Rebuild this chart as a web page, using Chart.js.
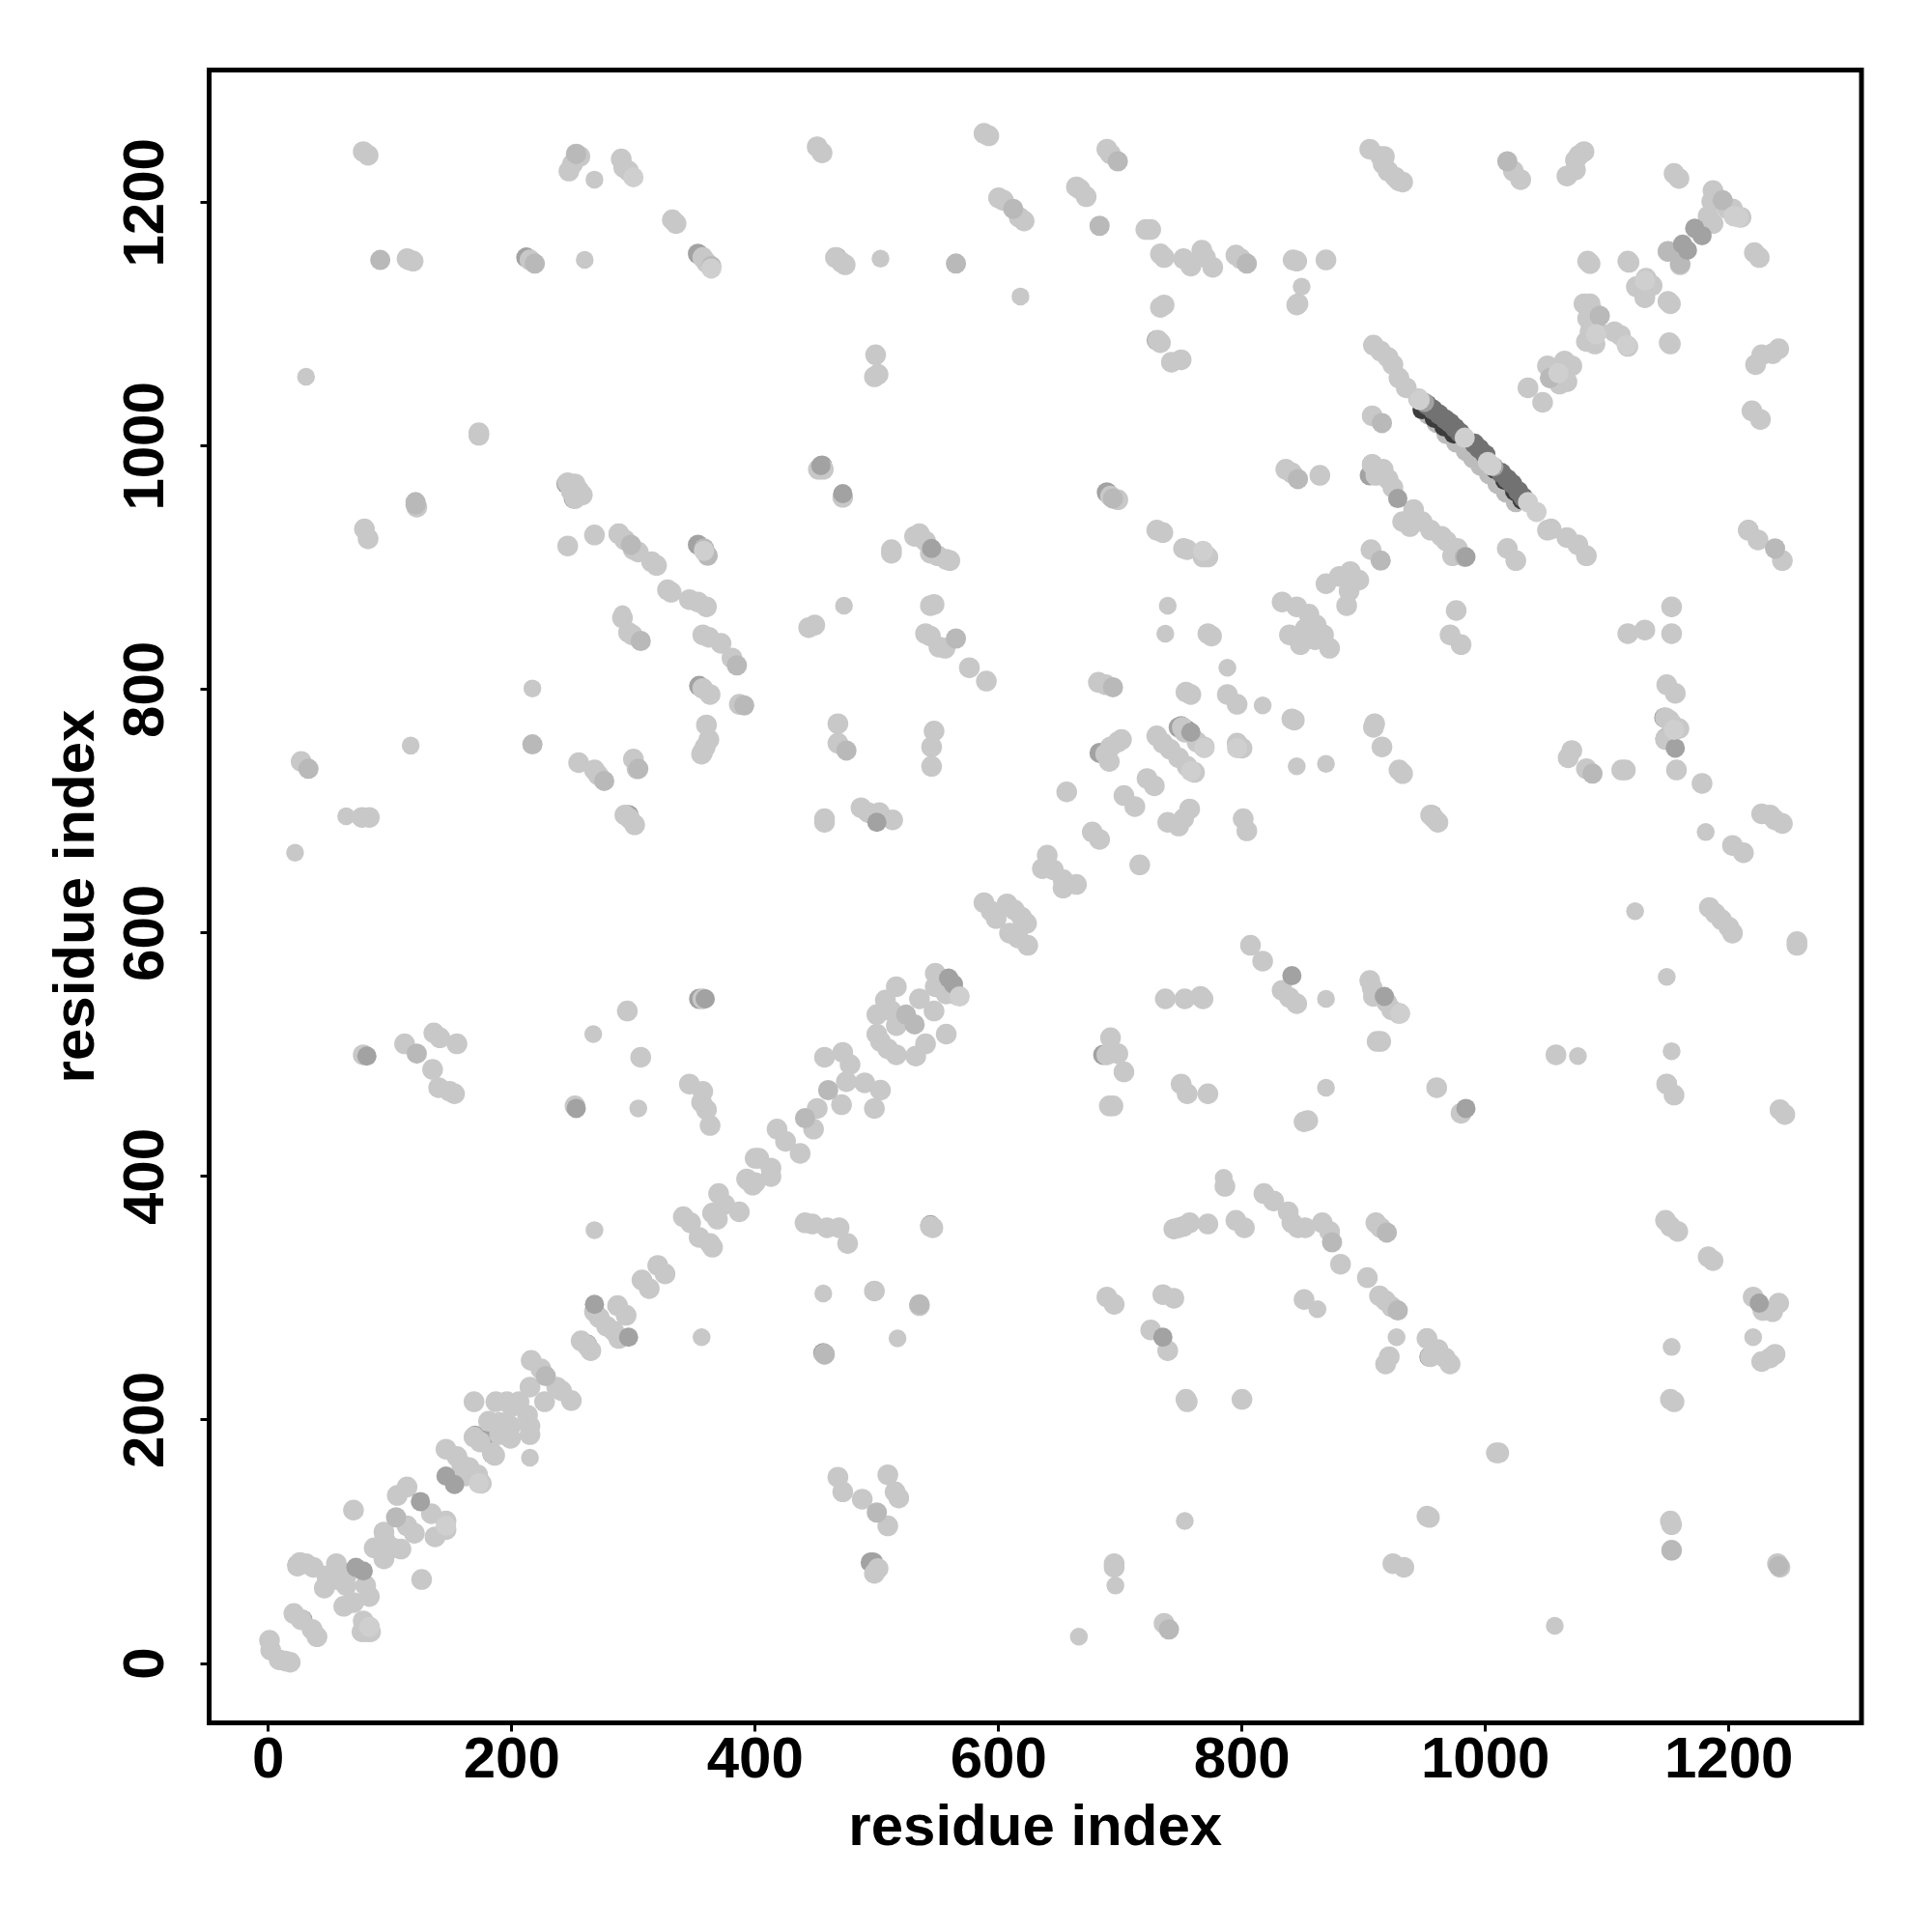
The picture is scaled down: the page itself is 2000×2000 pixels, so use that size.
<!DOCTYPE html>
<html>
<head>
<meta charset="utf-8">
<title>residue index</title>
<script src="https://cdn.jsdelivr.net/npm/chart.js@4/dist/chart.umd.min.js"></script>
<style>
  html, body { margin: 0; padding: 0; background: #fff; }
  canvas { display: block; }
</style>
</head>
<body>
<canvas id="contacts" width="2000" height="2000"></canvas>
<script>
const tickValues = [0, 200, 400, 600, 800, 1000, 1200];

// contact pairs [residue, residue], one list per grey level
const underDots = [[953,1026],[960,1019],[968,1010],[976,1003],[984,996],[990,990],[996,984],[1003,977],[1010,969],[1017,962],[1025,954]];

const blackDots = [[948,1030],[958,1023],[966,1016],[974,1010],[1008,981],[1016,972],[1024,963],[1030,956],[184,172],[174,183]];

const shadowDots = [[353,1158],[212,1155],[353,919],[689,962],[354,546],
  [730,1087],[748,769],[750,770],[296,697],[686,500],[495,83],[456,255],[455,984],[544,360],[497,83],[683,748],
  [956,697],[1147,777],[1148,760],[905,976],[907,985],[1149,476],[1216,931],[954,252],[78,28],[28,36],
  [24,81],[170,187],[181,184],[262,262],[245,969],[288,928],[467,1155],[354,803],[1150,1160],[251,957]];

const deepDots = [[952,1034],[957,1030],[962,1026],[967,1022],[971,1019],[975,1015],[979,1011],[991,1002],[995,998],[1000,993],[1013,978],
  [1018,973],[1022,969],[1027,963],[1031,958],[754,767]];

const darkDots = [[359,546],[253,456],[984,456],[841,565],[559,563],[563,558],[735,268],[1156,752],[758,765],[72,79],
  [78,76],[296,268],[146,154],[153,147],[1162,1166],[1172,1179],[1178,1173],[125,133],[472,961],[81,499],[500,691],
  [454,984],[545,916],[917,548],[1225,296],[1166,1161],[268,295],[984,909],[928,957],[950,1036],[1007,983]];

const midDots = [[92,1153],[219,1150],[1018,1234],[698,1234],[612,1195],[361,910],[358,916],[298,919],[364,1148],
  [694,802],[694,957],[804,1150],[846,973],[1195,1202],[1238,916],[1094,1107],[524,533],[531,525],[460,471],[441,448],
  [228,236],[105,120],[874,346],[919,354],[928,290],[500,124],[740,28],[1053,1056],[565,842],[276,725],[304,735],
  [122,501],[33,735],[121,954],[1150,1160],[1160,1150],[915,1019],[914,906],[983,909],[1088,731],[475,750],[385,820],
  [306,840],[391,787],[1153,93],[1241,80],[535,295],[457,254],[253,1240],[121,952],[217,755],[565,1150],[683,1181]];

// points that stand alone in the picture
const singleDots = [[268,1219],[260,1153],[31,1057],[291,862],[473,869],[503,1154],[618,1123],[849,1131],[117,754],[64,696],
  [22,666],[217,801],[267,517],[304,456],[869,739],[1123,618],[869,546],[869,473],[1149,564],[1181,683],[1153,503],[1076,499],
  [927,268],[862,291],[1153,260],[1220,268],[753,117],[696,64],[666,22],[1057,31],[517,267],[456,304],[268,356],[356,268],
  [215,169],[737,846],[788,818],[817,787],[845,737],[739,869],[785,399]];

const lightDots = [[78,1242],[82,1239],[253,1240],[256,1238],[250,1232],[247,1226],[290,1236],[292,1229],[296,1226],
  [332,1186],[335,1183],[114,1154],[116,1153],[119,1152],[215,1153],[357,1155],[360,1151],[173,1011],[173,1009],
  [246,970],[252,969],[249,963],[255,964],[252,957],[258,960],[122,950],[79,932],[82,924],[268,927],[246,918],[288,928],[293,923],
  [300,915],[304,913],[315,905],[319,902],[328,882],[331,880],[346,874],[353,872],[360,868],
  [451,1246],[455,1241],[588,1257],[592,1255],[689,1244],[692,1240],[664,1213],[667,1211],[672,1205],[600,1204],[604,1202],[617,1188],[621,1185],
  [721,1178],[725,1178],[466,1155],[471,1151],[474,1149],[733,1158],[736,1155],[752,1154],[758,1148],[767,1161],[770,1155],[776,1147],[795,1157],[799,1154],
  [842,1153],[845,1152],[846,1117],[845,1116],[736,1116],[733,1114],[731,1087],[733,1085],[742,1069],[750,1071],[499,1075],[498,1057],[501,1059],
  [452,981],[456,981],[472,958],[692,959],[698,956],[836,981],[841,978],[730,931],[735,929],[752,916],[755,915],[772,909],[768,909],[512,915],[512,912],
  [531,926],[535,928],[540,922],[544,912],[550,910],[557,907],[560,906],[544,869],[547,870],[444,851],[449,853],
  [905,1244],[914,1238],[917,1238],[916,1232],[920,1226],[926,1221],[929,1218],[932,1217],[1023,1226],[1029,1219],[1067,1222],[1074,1227],[1074,1235],[1077,1239],[1081,1242],
  [1155,1224],[1159,1220],[1187,1210],[1186,1201],[1199,1195],[1203,1195],[1210,1188],[1183,1189],[1187,1183],[1150,1160],[1160,1149],[1221,1159],[1225,1155],[1084,1152],[1086,1150],[1117,1152],[1118,1151],
  [1124,1131],[1132,1138],[1137,1132],[1130,1127],[1131,1122],[1152,1117],[1150,1119],[1151,1085],[1152,1084],[1081,1117],[1086,1117],[1089,1110],[1084,1105],[1086,1094],[1092,1095],[1083,1086],[1090,1084],[1106,1094],[1111,1091],[1117,1082],
  [1051,1066],[1065,1070],[1071,1066],[1054,1056],[1067,1053],[1061,1051],[1056,1064],[1060,1058],[1035,1048],[1047,1036],[1227,1075],[1222,1067],[1236,1076],[1241,1080],[1219,1029],[1226,1022],
  [908,1083],[914,1078],[920,1073],[924,1067],[929,1056],[935,1048],[945,1039],[1051,931],[1054,932],[1067,925],[1076,919],[1083,910],
  [907,985],[910,976],[916,981],[920,973],[924,966],[941,948],[932,938],[948,938],[938,934],[955,931],[964,926],[968,922],[977,916],[973,910],[864,976],[869,1153],
  [907,1025],[906,915],[1018,916],[1025,906],[1216,931],[1224,923],[1244,906],[1153,868],[976,865],[869,887],[880,893],[889,897],[896,890],[888,881],[886,869],[855,862],[861,853],
  [833,872],[845,868],[839,845],[852,850],[848,837],
  [299,845],[296,847],[357,845],[362,843],[372,838],[381,826],[291,859],[357,801],[363,796],[387,788],[360,771],[362,759],[357,749],[356,747],[359,753],
  [27,741],[255,740],[268,734],[271,730],[300,743],[303,735],[77,695],[83,695],[293,697],[297,694],[301,689],[357,546],[295,536],[306,498],[78,500],
  [112,509],[135,488],[136,518],[141,514],[155,509],[140,473],[153,468],[149,470],[346,476],[357,470],[356,461],[360,455],[363,442],[252,458],[400,415],[393,398],
  [540,846],[544,844],[551,835],[556,834],[576,818],[590,807],[775,844],[772,846],[682,806],[688,804],[754,798],[758,796],[788,796],[796,788],[843,775],[841,776],
  [468,772],[468,756],[547,766],[545,753],[545,737],[457,691],[457,694],[487,703],[493,699],[502,699],[513,693],[698,757],[692,753],[688,747],[691,741],[701,759],
  [730,762],[735,756],[741,751],[748,744],[755,737],[761,732],[751,769],[753,765],[763,757],[769,753],[796,756],[800,752],[656,716],[722,727],[728,721],[703,713],[712,704],
  [757,702],[752,694],[748,688],[739,691],[801,694],[804,684],[677,683],[683,677],[716,656],[640,664],[636,653],[645,652],[653,644],[653,637],[664,640],
  [588,625],[594,618],[607,624],[613,619],[598,612],[619,613],[623,608],[609,600],[616,596],[624,590],[548,567],[548,556],[566,549],[557,550],
  [516,556],[507,545],[500,533],[535,546],[547,536],[512,536],[516,524],[557,517],[540,509],[532,499],[500,517],[503,511],[509,505],[516,500],
  [457,498],[472,502],[478,492],[475,478],[471,459],[490,477],[503,471],[498,456],[451,456],[448,439],[418,439],[425,429],[437,419],[403,415],[413,407],
  [807,590],[817,577],[833,553],[839,547],[845,542],[737,546],[753,546],[766,548],[768,546],[692,514],[698,501],[689,500],[703,486],[750,476],[755,468],[772,468],[691,458],[694,458],[851,445],
  [857,847],[867,845],[872,834],[860,841],[971,845],[980,837],[1117,846],[1131,849],[1153,846],[1149,804],[1156,797],[1148,777],[1151,775],[1159,768],[1153,772],[1148,759],[1157,734],[1178,723],
  [909,772],[908,769],[915,753],[929,734],[932,731],[1071,750],[1068,744],[1083,735],[1115,734],[1112,734],[958,694],[961,691],[955,697],[1227,698],[1234,697],[1238,693],[1244,690],
  [1203,672],[1212,666],[1184,621],[1189,616],[1194,611],[1200,605],[1203,600],[1256,590],[1256,593],[905,561],[907,555],[908,548],[919,543],[923,537],[929,534],
  [914,511],[911,511],[1058,500],[1149,476],[1155,467],[960,473],[980,452],[1242,455],[1246,451],[854,446],
  [394,397],[398,393],[370,386],[375,377],[365,370],[387,371],[369,365],[341,367],[347,362],[354,350],[363,345],[365,342],[320,327],[326,320],[307,315],[313,308],
  [268,289],[272,284],[287,294],[294,286],[278,277],[284,273],[288,267],[257,265],[265,257],[262,261],[216,249],[224,242],[237,227],[241,224],[249,216],[215,227],[227,215],
  [169,215],[187,215],[196,215],[206,215],[200,211],[213,204],[181,199],[190,198],[199,195],[215,195],[215,188],[199,185],[190,188],[169,186],[174,182],[184,173],[186,171],
  [146,176],[155,170],[159,163],[165,161],[172,155],[175,148],[162,154],[114,145],[106,138],[134,123],[146,117],[146,110],[120,107],[137,104],[95,108],[109,94],[87,95],[95,86],[96,101],[102,95],[114,113],
  [70,126],[126,69],[26,83],[31,82],[24,80],[37,79],[56,82],[48,72],[46,62],[65,74],[64,64],[55,69],[80,64],[83,55],[62,47],[70,50],
  [21,41],[27,36],[36,28],[40,22],[78,35],[83,30],[81,26],[77,26],[84,26],[1,19],[2,11],[9,3],[18,1],[14,2],
  [413,400],[400,395],[441,362],[447,361],[459,358],[469,358],[476,345],[546,358],[544,359],[498,306],[535,294],[457,254],
  [468,153],[472,141],[488,135],[509,113],[509,155],[515,141],[518,136],[501,78],[498,74],
  [786,392],[818,386],[826,380],[838,371],[841,362],[846,358],[748,358],[757,362],[752,359],[772,361],[744,357],[795,364],[802,358],[689,301],[695,295],[735,303],[744,300],[725,274],[739,257],
  [754,217],[755,215],[800,217],[695,82],[695,79],[736,33],
  [866,362],[872,355],[881,328],[903,317],[852,358],[910,362],[914,358],[913,302],[918,298],[923,293],[921,252],[918,246],[851,299],
  [952,267],[961,258],[967,251],[971,246],[955,252],[1148,364],[1152,359],[1158,355],[1183,334],[1187,331],[1220,301],[1228,290],[1236,289],[1241,296],[1227,248],[1234,251],[1238,254],
  [1152,217],[1155,215],[1009,173],[1011,173],[952,121],[954,120],[1152,117],[1153,114],[1153,93],[1240,82],[1242,79],[924,82],[933,79]];

// light ones that lie over the dark stripe and the clusters
const paleDots = [[983,1007],[1002,987],[1005,984],[1035,954],[1042,946],[946,1038],
  [364,1146],[300,1221],[358,914],[1204,1189],[1116,1083],[1131,1136],[1091,1092],[1060,1060],[758,733],[769,752],[796,752],[1208,1188],[568,548],[768,914],
  [930,534],[1155,767],[173,148],[146,113],[83,30]];

const layers = [
  { data: underDots, color: '#bcbcbc', radius: 10.5 },
  { data: blackDots, color: '#3c3c3c', radius: 10 },
  { data: shadowDots, color: '#a2a2a2', radius: 10.5 },
  { data: deepDots, color: '#727272', radius: 10.5 },
  { data: singleDots, color: '#c8c8c8', radius: 9.25 },
  { data: lightDots, color: '#c8c8c8', radius: 10.75 },
  { data: midDots, color: '#b9b9b9', radius: 10.5 },
  { data: darkDots, color: '#a2a2a2', radius: 10 },
  { data: paleDots, color: '#cfcfcf', radius: 10.5 }
];

const frame = {
  id: 'frame',
  afterDraw(chart) {
    const { ctx, chartArea: a } = chart;
    ctx.save();
    ctx.strokeStyle = '#000';
    ctx.lineWidth = 5;
    ctx.strokeRect(a.left, a.top, a.right - a.left, a.bottom - a.top);
    ctx.restore();
  }
};

const setTicks = scale => { scale.ticks = tickValues.map(v => ({ value: v })); };
const tickText = v => String(v);
const axisFont = { family: '"Liberation Sans"', size: 60, weight: 'bold', lineHeight: 1 };

new Chart(document.getElementById('contacts'), {
  type: 'scatter',
  plugins: [frame],
  data: {
    datasets: layers.map((l, i) => ({
      data: l.data.map(p => ({ x: p[0], y: p[1] })),
      backgroundColor: l.color,
      pointRadius: l.radius,
      pointBorderWidth: 0,
      order: layers.length - i
    }))
  },
  options: {
    responsive: false,
    animation: false,
    layout: { padding: { top: 72.5, right: 73, left: 0, bottom: 0 } },
    plugins: { legend: { display: false }, tooltip: { enabled: false } },
    scales: {
      x: {
        type: 'linear',
        min: -48.6,
        max: 1309,
        afterBuildTicks: setTicks,
        afterFit: s => { s.height = 216.5; },
        border: { display: false },
        grid: { drawOnChartArea: false, tickLength: 9, tickWidth: 3, tickColor: '#000' },
        ticks: { color: '#000', font: axisFont, padding: 1, maxRotation: 0, minRotation: 0, autoSkip: false, callback: tickText },
        title: { display: true, text: 'residue index', color: '#000', font: axisFont, padding: { top: 14, bottom: 77 } }
      },
      y: {
        type: 'linear',
        min: -48.8,
        max: 1309,
        afterBuildTicks: setTicks,
        afterFit: s => { s.width = 216.5; },
        border: { display: false },
        grid: { drawOnChartArea: false, tickLength: 9, tickWidth: 3, tickColor: '#000' },
        ticks: { color: '#000', font: axisFont, padding: -12, minRotation: 90, maxRotation: 90, crossAlign: 'center', autoSkip: false, callback: tickText },
        title: { display: true, text: 'residue index', color: '#000', font: axisFont, padding: { top: 50, bottom: 0 } }
      }
    }
  }
});
</script>
</body>
</html>
